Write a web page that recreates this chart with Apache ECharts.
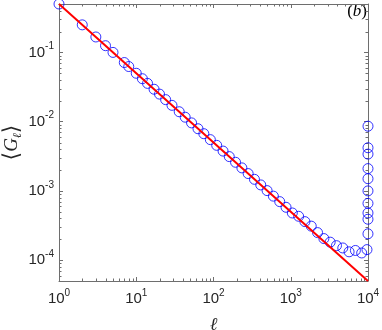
<!DOCTYPE html>
<html>
<head>
<meta charset="utf-8">
<script src="https://cdn.jsdelivr.net/npm/echarts@6/dist/echarts.min.js"></script>
<style>
  html, body { margin: 0; padding: 0; background: #fff; }
  #chart { width: 382px; height: 330px; }
</style>
</head>
<body>
<div id="chart"></div>
<script>
// circle markers
const ells = [1, 2, 3, 4, 5, 7, 8, 10, 12, 14, 17, 20, 24, 29, 36, 43, 52, 63, 75, 91,
  110, 133, 160, 193, 233, 281, 339, 409, 494, 596, 720, 869, 1048, 1265, 1526, 1842,
  2223, 2683, 3237, 3907, 4715, 5690, 6866, 8286, 9700,
  9991, 9992, 9993, 9994, 9995, 9996, 9997, 9998, 9999, 10000];
const gVals = [0.5, 0.25, 0.167, 0.125, 0.1, 0.0714, 0.0625, 0.05, 0.0417, 0.0357, 0.0294,
  0.025, 0.0208, 0.0172, 0.0139, 0.0116, 0.0096, 0.0079, 0.0067, 0.0055,
  0.00455, 0.00376, 0.00313, 0.00259, 0.00215, 0.00178, 0.00147, 0.00122, 0.00101,
  0.00084, 0.0007, 0.00058, 0.00048, 0.00043, 0.00036, 0.00031,
  0.00025, 0.000205, 0.000182, 0.000162, 0.00015, 0.000132, 0.000138, 0.000127, 0.000142,
  0.00024, 0.00039, 0.00048, 0.00066, 0.001, 0.0015, 0.0021, 0.0034, 0.0042, 0.0086];

// red reference line
const lineX = [1, 10000];
const lineY = [0.5, 0.00005];

// axis ranges and tick exponents
const xRange = [1, 10000];
const yRange = [0.00005, 0.5];
const xTickExp = ['0', '1', '2', '3', '4'];
const yTickExp = ['-4', '-3', '-2', '-1'];

const axisColor = '#6e6e6e';
const labelColor = '#262626';

// minor tick positions (2..9 x 10^k) for the log axes
const minorX = [];
for (let k = 0; k < 4; k++) for (let m = 2; m <= 9; m++) minorX.push([m * Math.pow(10, k), 0.001]);
const minorY = [];
for (let k = -5; k < 0; k++) for (let m = 2; m <= 9; m++) {
  const v = m * Math.pow(10, k);
  if (v > yRange[0] && v < yRange[1]) minorY.push([10, v]);
}

const supRich = {
  b: { fontSize: 15, lineHeight: 22, fontFamily: 'Liberation Sans', color: labelColor },
  s: { fontSize: 10, lineHeight: 10, verticalAlign: 'top', fontFamily: 'Liberation Sans', color: labelColor }
};

const fmtPow = (value) => {
  const e = Math.round(Math.log10(value));
  return '{b|10}{s|' + e + '}';
};

const myChart = echarts.init(document.getElementById('chart'));

const options = {
  animation: false,
  grid: { left: 59, right: 14, top: 4, bottom: 49, containLabel: false, outerBoundsMode: 'none' },
  xAxis: [
    {
      type: 'log',
      min: xRange[0],
      max: xRange[1],
      name: 'ℓ',
      nameLocation: 'middle',
      nameGap: 35,
      nameMoveOverlap: false,
      nameTextStyle: { fontSize: 18, fontStyle: 'italic', fontFamily: 'DejaVu Serif', color: labelColor },
      axisLine: { lineStyle: { color: axisColor, width: 1 } },
      axisTick: { inside: true, length: 4, lineStyle: { color: axisColor } },
      axisLabel: { margin: 7, formatter: fmtPow, rich: supRich },
      splitLine: { show: false }
    },
    {
      type: 'log',
      position: 'top',
      min: xRange[0],
      max: xRange[1],
      axisLine: { lineStyle: { color: axisColor, width: 1 } },
      axisTick: { inside: true, length: 4, lineStyle: { color: axisColor } },
      axisLabel: { show: false },
      splitLine: { show: false }
    }
  ],
  yAxis: [
    {
      type: 'log',
      min: yRange[0],
      max: yRange[1],
      name: '{a|⟨}{g|G}{l|ℓ}{a|⟩}',
      nameLocation: 'middle',
      nameRotate: 90,
      nameGap: 35,
      nameMoveOverlap: false,
      nameTextStyle: {
        rich: {
          a: { fontSize: 22, lineHeight: 24, fontFamily: 'DejaVu Sans', color: labelColor },
          g: { fontSize: 19, lineHeight: 24, fontStyle: 'italic', fontFamily: 'Liberation Serif', color: labelColor },
          l: { fontSize: 12, lineHeight: 12, verticalAlign: 'bottom', fontStyle: 'italic', fontFamily: 'DejaVu Serif', color: labelColor }
        }
      },
      axisLine: { lineStyle: { color: axisColor, width: 1 } },
      axisTick: { inside: true, length: 4, lineStyle: { color: axisColor } },
      axisLabel: { margin: 5, showMinLabel: false, showMaxLabel: false, formatter: fmtPow, rich: supRich },
      splitLine: { show: false }
    },
    {
      type: 'log',
      position: 'right',
      min: yRange[0],
      max: yRange[1],
      axisLine: { lineStyle: { color: axisColor, width: 1 } },
      axisTick: { inside: true, length: 4, lineStyle: { color: axisColor } },
      axisLabel: { show: false },
      splitLine: { show: false }
    }
  ],
  graphic: [
    {
      type: 'text',
      right: 15,
      top: 3,
      style: {
        text: '{p|(}{b|b}{p|)}',
        rich: {
          p: { fontSize: 17, fontFamily: 'Liberation Serif', fill: '#000' },
          b: { fontSize: 17, fontStyle: 'italic', fontFamily: 'Liberation Serif', fill: '#000' }
        }
      }
    }
  ],
  series: [
    {
      // minor ticks on bottom/top
      type: 'custom',
      silent: true,
      clip: false,
      data: minorX,
      renderItem: function (params, api) {
        const cs = params.coordSys;
        const p = api.coord([api.value(0), api.value(1)]);
        const x = Math.round(p[0]) + 0.5;
        const st = { stroke: axisColor, lineWidth: 1 };
        return {
          type: 'group',
          children: [
            { type: 'line', shape: { x1: x, y1: cs.y + cs.height, x2: x, y2: cs.y + cs.height - 2.5 }, style: st },
            { type: 'line', shape: { x1: x, y1: cs.y, x2: x, y2: cs.y + 2.5 }, style: st }
          ]
        };
      }
    },
    {
      // minor ticks on left/right
      type: 'custom',
      silent: true,
      clip: false,
      data: minorY,
      renderItem: function (params, api) {
        const cs = params.coordSys;
        const p = api.coord([api.value(0), api.value(1)]);
        const y = Math.round(p[1]) + 0.5;
        const st = { stroke: axisColor, lineWidth: 1 };
        return {
          type: 'group',
          children: [
            { type: 'line', shape: { x1: cs.x, y1: y, x2: cs.x + 2.5, y2: y }, style: st },
            { type: 'line', shape: { x1: cs.x + cs.width, y1: y, x2: cs.x + cs.width - 2.5, y2: y }, style: st }
          ]
        };
      }
    },
    {
      name: 'G',
      type: 'scatter',
      clip: false,
      symbol: 'circle',
      symbolSize: 10,
      data: ells.map((l, i) => [l, gVals[i]]),
      itemStyle: { color: 'rgba(0,0,0,0)', borderColor: '#0000ff', borderWidth: 1 }
    },
    {
      name: 'fit',
      type: 'line',
      showSymbol: false,
      data: lineX.map((l, i) => [l, lineY[i]]),
      lineStyle: { color: '#ff0000', width: 2 }
    }
  ]
};

myChart.setOption(options);
</script>
</body>
</html>
